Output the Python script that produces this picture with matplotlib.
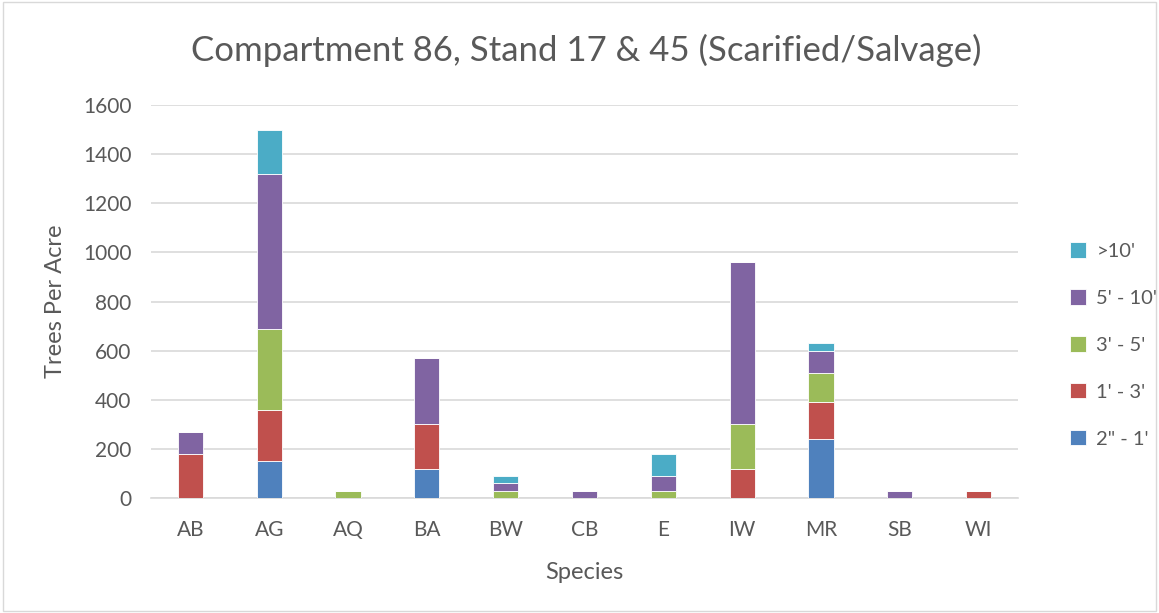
import matplotlib.pyplot as plt
import numpy as np

plt.rcParams['font.family'] = ['Lato', 'DejaVu Sans']

# species and stacked height-class values (trees per acre)
species = ['AB', 'AG', 'AQ', 'BA', 'BW', 'CB', 'E', 'IW', 'MR', 'SB', 'WI']
classes = ['2" - 1\'', "1' - 3'", "3' - 5'", "5' - 10'", ">10'"]
colors = ['#4F81BD', '#C0504D', '#9BBB59', '#8064A2', '#4BACC6']

h_2in_1ft = [0, 150, 0, 120, 0, 0, 0, 0, 240, 0, 0]
h_1_3ft = [180, 210, 0, 180, 0, 0, 0, 120, 150, 0, 30]
h_3_5ft = [0, 330, 30, 0, 30, 0, 30, 180, 120, 0, 0]
h_5_10ft = [90, 630, 0, 270, 30, 30, 60, 660, 90, 30, 0]
h_gt10ft = [0, 180, 0, 0, 30, 0, 90, 0, 30, 0, 0]

series = [h_2in_1ft, h_1_3ft, h_3_5ft, h_5_10ft, h_gt10ft]

fig = plt.figure(figsize=(11.59, 6.13), dpi=100)
ax = fig.add_axes([151 / 1159, 1 - 498 / 613, (1018 - 151) / 1159, (498 - 105) / 613])

x = np.arange(len(species))
bottom = np.zeros(len(species))
handles = []
for vals, c, lab in zip(series, colors, classes):
    b = ax.bar(x, vals, 0.32, bottom=bottom, color=c, edgecolor='white', linewidth=0.6, label=lab, zorder=3)
    handles.append(b)
    bottom += np.array(vals)

ax.set_xlim(-0.5, len(species) - 0.5)
ax.set_ylim(0, 1600)
ax.set_yticks(range(0, 1601, 200))
ax.set_xticks(x)
ax.set_xticklabels(species)
ax.grid(axis='y', color='#d9d9d9', linewidth=1.2, zorder=0)
for s in ['top', 'right', 'left']:
    ax.spines[s].set_visible(False)
ax.spines['bottom'].set_color('#d9d9d9')
ax.spines['bottom'].set_linewidth(1.2)
ax.tick_params(length=0, labelsize=15, colors='#595959')
ax.tick_params(axis='y', pad=14)
ax.tick_params(axis='x', pad=16)

ax.set_xlabel('Species', fontsize=17, color='#595959', labelpad=16)
ax.set_ylabel('Trees Per Acre', fontsize=17, color='#595959', labelpad=12)
fig.text(0.506, 1 - 50 / 613, 'Compartment 86, Stand 17 & 45 (Scarified/Salvage)',
         ha='center', va='center', fontsize=25, color='#595959')

leg = fig.legend(handles[::-1], classes[::-1], loc='center left',
                 bbox_to_anchor=(1052 / 1159, 1 - 345 / 613), frameon=False,
                 fontsize=14.5, labelspacing=1.45, handlelength=0.8, handleheight=0.8,
                 handletextpad=0.5)
for t in leg.get_texts():
    t.set_color('#595959')

# light border around the chart
fig.patches.append(plt.Rectangle((0.003, 0.003), 0.994, 0.994, transform=fig.transFigure,
                                 fill=False, edgecolor='#d9d9d9', linewidth=1))

fig.savefig('out.png', dpi=100)
